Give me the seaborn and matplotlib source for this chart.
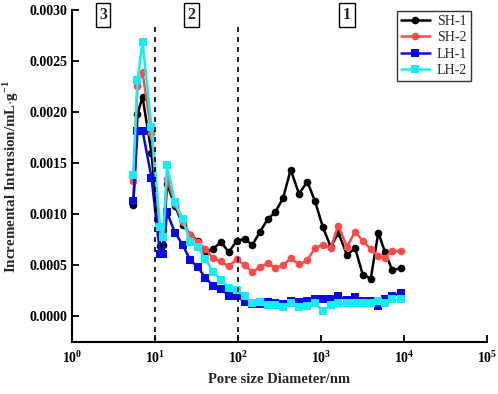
import numpy as np
import pandas as pd
import matplotlib
matplotlib.use("Agg")
import matplotlib.pyplot as plt
from matplotlib.lines import Line2D
from matplotlib.ticker import FixedLocator, FuncFormatter, NullLocator
import seaborn as sns

# pore diameter grid (nm)
pore_nm = [5.48, 6.15, 7.07, 9.07, 11.5, 12.6, 13.95, 17.4, 21.6, 26.6, 33.0, 40.4,
           50.0, 62.4, 77.2, 96.4, 120.4, 148.7, 184, 229, 281, 349, 431, 543,
           684, 847, 1048, 1309, 1616, 2056, 2570, 3180, 3970, 4900, 5900, 7230, 9070]

sh1 = [1.095, 1.98, 2.15, 1.60, 0.69, 0.70, 1.30, 1.08, 0.90, 0.80, 0.74, 0.63,
       0.66, 0.73, 0.63, 0.74, 0.76, 0.70, 0.83, 0.955, 1.02, 1.16, 1.437, 1.20,
       1.32, 1.127, 0.88, 0.68, 0.82, 0.60, 0.67, 0.41, 0.37, 0.82, 0.63, 0.45, 0.475]
sh2 = [1.33, 2.26, 2.39, 1.80, 0.80, 0.85, 1.35, 1.10, 0.92, 0.80, 0.73, 0.66,
       0.57, 0.54, 0.49, 0.56, 0.50, 0.435, 0.485, 0.52, 0.475, 0.50, 0.57, 0.51,
       0.55, 0.67, 0.70, 0.67, 0.89, 0.68, 0.83, 0.74, 0.66, 0.59, 0.575, 0.645, 0.64]
lh1 = [1.13, 1.82, 1.82, 1.36, 0.61, 0.61, 1.02, 0.82, 0.70, 0.55, 0.48, 0.38,
       0.30, 0.27, 0.205, 0.20, 0.14, 0.125, 0.12, 0.14, 0.13, 0.125, 0.155, 0.14,
       0.15, 0.17, 0.175, 0.175, 0.20, 0.16, 0.19, 0.15, 0.15, 0.10, 0.175, 0.205, 0.225]
lh2 = [1.38, 2.31, 2.69, 1.85, 0.88, 0.78, 1.48, 1.12, 0.95, 0.73, 0.68, 0.56,
       0.44, 0.36, 0.28, 0.26, 0.20, 0.135, 0.14, 0.117, 0.117, 0.095, 0.134, 0.091,
       0.107, 0.127, 0.052, 0.117, 0.127, 0.127, 0.127, 0.134, 0.134, 0.15, 0.134, 0.166, 0.166]

series_names = ["SH-1", "SH-2", "LH-1", "LH-2"]
series_vals = [sh1, sh2, lh1, lh2]
colors = {"SH-1": "#000000", "SH-2": "#FF4A4A", "LH-1": "#0A0AE6", "LH-2": "#12EEF2"}
markers = {"SH-1": "o", "SH-2": "o", "LH-1": "s", "LH-2": "s"}

region_labels = ["3", "2", "1"]
region_x = [2.36, 27.2, 2056]
y_ticks = [0.0, 0.0005, 0.0010, 0.0015, 0.0020, 0.0025, 0.0030]

rows = []
for name, vals in zip(series_names, series_vals):
    for x, v in zip(pore_nm, vals):
        rows.append({"pore": x, "val": v * 1e-3, "sample": name})
df = pd.DataFrame(rows)

sns.set_style("ticks")
plt.rcParams["font.family"] = ["Liberation Serif", "DejaVu Serif"]
plt.rcParams["font.weight"] = "bold"
plt.rcParams["mathtext.fontset"] = "custom"
plt.rcParams["mathtext.rm"] = "Liberation Serif:bold"
plt.rcParams["mathtext.bf"] = "Liberation Serif:bold"

fig = plt.figure(figsize=(4.98, 3.94), dpi=100)
ax = fig.add_axes([0.1446, 0.132, 0.978 - 0.1446, 0.9746 - 0.132])

sns.lineplot(data=df, x="pore", y="val", hue="sample", style="sample",
             markers=markers, dashes=False, palette=colors, estimator=None,
             sort=False, linewidth=1.8, markersize=5.5, markeredgewidth=0,
             legend=False, ax=ax)

ax.set_xscale("log")
ax.set_xlim(1, 1e5)
ax.set_ylim(-0.00025, 0.0030)
ax.xaxis.set_major_locator(FixedLocator([1, 10, 100, 1e3, 1e4, 1e5]))
ax.xaxis.set_minor_locator(NullLocator())
ax.xaxis.set_major_formatter(FuncFormatter(lambda v, p: r"$\mathbf{10^{%d}}$" % int(round(np.log10(v)))))
ax.yaxis.set_major_locator(FixedLocator(y_ticks))
ax.yaxis.set_major_formatter(FuncFormatter(lambda v, p: "%.4f" % v))

for s in ["top", "right"]:
    ax.spines[s].set_visible(False)
for s in ["left", "bottom"]:
    ax.spines[s].set_linewidth(1.5)
    ax.spines[s].set_color("black")
ax.tick_params(axis="both", direction="in", length=5, width=1.3, labelsize=10, colors="black")
ax.tick_params(axis="x", pad=6)
for lab in ax.get_xticklabels() + ax.get_yticklabels():
    lab.set_fontweight("bold")

for xv in [10, 100]:
    ax.axvline(xv, ymin=0, ymax=0.955, color="black", linestyle=(0, (3, 3)), linewidth=1.2)

for t, xv in zip(region_labels, region_x):
    ax.text(xv, 0.985, t, transform=ax.get_xaxis_transform(), ha="center", va="center",
            fontsize=11.5, fontweight="bold",
            bbox=dict(boxstyle="square,pad=0.22", facecolor="white", edgecolor="black", linewidth=1))

ax.set_xlabel("Pore size Diameter/nm", fontsize=10.5, fontweight="bold", labelpad=5)
ax.set_ylabel(r"Incremental Intrusion/mL$\cdot$g$^{\mathbf{-1}}$", fontsize=10.8, fontweight="bold", labelpad=6)

handles = [Line2D([0], [0], color=colors[n], marker=markers[n], markersize=5.5,
                  markeredgewidth=0, linewidth=1.8) for n in series_names]
leg = ax.legend(handles, series_names, loc="upper right", bbox_to_anchor=(0.962, 0.998),
                frameon=True, fancybox=False, edgecolor="black", fontsize=10,
                handlelength=2.1, labelspacing=0.25, borderpad=0.3, handletextpad=0.5,
                borderaxespad=0.0)
leg.get_frame().set_linewidth(1.0)
for t in leg.get_texts():
    t.set_fontweight("normal")

fig.savefig("out.png", dpi=100)
